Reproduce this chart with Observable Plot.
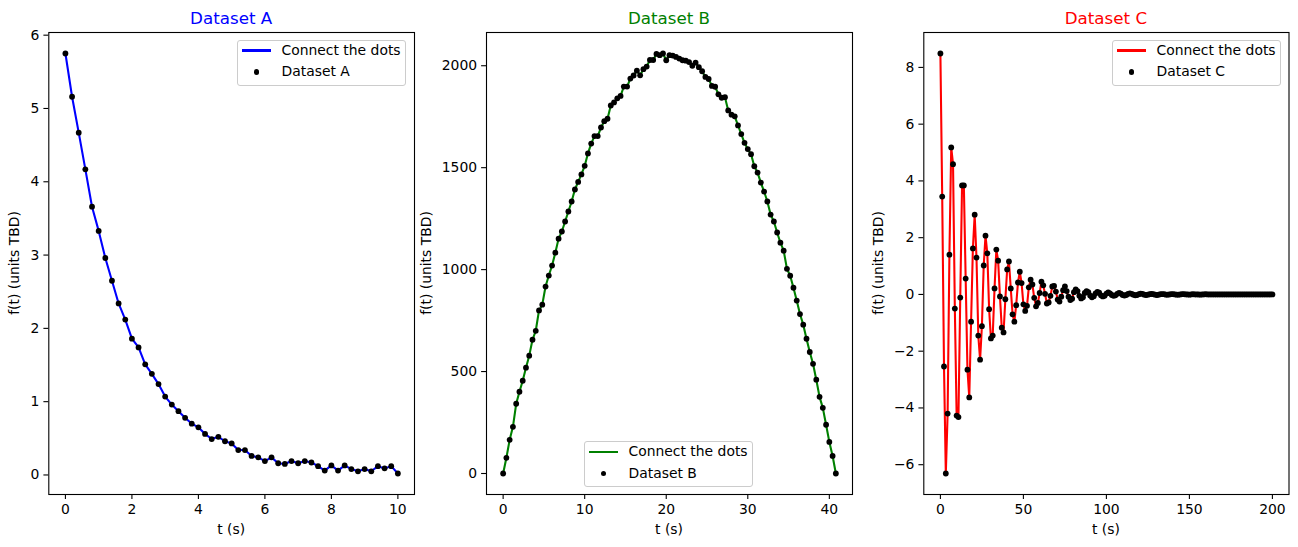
<!DOCTYPE html>
<html><head><meta charset="utf-8">
<script src="https://cdn.jsdelivr.net/npm/d3@7"></script>
<script src="https://cdn.jsdelivr.net/npm/@observablehq/plot@0.6"></script>
<style>
html,body{margin:0;padding:0;background:#fff;}
#fig{position:relative;width:1298px;height:547px;font-family:"DejaVu Sans",sans-serif;overflow:hidden;background:#fff;}
.abs{position:absolute;white-space:nowrap;}
</style></head><body><div id="fig"></div>
<script>
// ---------- Data ----------
const tA = [0,0.2,0.4,0.6,0.8,1,1.2,1.4,1.6,1.8,2,2.2,2.4,2.6,2.8,3,3.2,3.4,3.6,3.8,4,4.2,4.4,4.6,4.8,5,5.2,5.4,5.6,5.8,6,6.2,6.4,6.6,6.8,7,7.2,7.4,7.6,7.8,8,8.2,8.4,8.6,8.8,9,9.2,9.4,9.6,9.8,10];
const vA = [5.75,5.16,4.67,4.17,3.66,3.33,2.96,2.65,2.34,2.12,1.86,1.74,1.51,1.38,1.24,1.07,0.96,0.87,0.78,0.70,0.65,0.56,0.49,0.52,0.46,0.43,0.34,0.34,0.26,0.24,0.19,0.24,0.16,0.15,0.19,0.16,0.19,0.17,0.12,0.06,0.13,0.06,0.13,0.08,0.05,0.08,0.05,0.12,0.09,0.12,0.02];

const tB = [0,0.4,0.8,1.2,1.6,2,2.4,2.8,3.2,3.6,4,4.4,4.8,5.2,5.6,6,6.4,6.8,7.2,7.6,8,8.4,8.8,9.2,9.6,10,10.4,10.8,11.2,11.6,12,12.4,12.8,13.2,13.6,14,14.4,14.8,15.2,15.6,16,16.4,16.8,17.2,17.6,18,18.4,18.8,19.2,19.6,20,20.4,20.8,21.2,21.6,22,22.4,22.8,23.2,23.6,24,24.4,24.8,25.2,25.6,26,26.4,26.8,27.2,27.6,28,28.4,28.8,29.2,29.6,30,30.4,30.8,31.2,31.6,32,32.4,32.8,33.2,33.6,34,34.4,34.8,35.2,35.6,36,36.4,36.8,37.2,37.6,38,38.4,38.8,39.2,39.6,40,40.4,40.8];
const vB = [0,77,165,229,342,401,455,519,578,656,
  700,800,828,917,971,1020,1083,1152,1187,1236,
  1285,1334,1393,1430,1467,1509,1570,1618,1655,1655,
  1697,1728,1740,1805,1820,1840,1852,1898,1898,1937,
  1952,1976,1953,1983,1996,2028,2028,2058,2052,2060,
  2027,2052,2050,2043,2035,2027,2025,2018,2000,2015,
  1993,1973,1945,1935,1901,1897,1860,1843,1846,1781,
  1760,1752,1707,1665,1622,1591,1566,1507,1476,1427,
  1383,1334,1270,1236,1182,1132,1093,1004,970,911,
  848,782,730,661,596,538,460,376,322,239,
  155,86,0];

const tC = [0,1.09,2.17,3.26,4.35,5.43,6.52,7.61,8.70,9.78,10.87,11.96,13.04,14.13,15.22,16.30,17.39,18.48,19.57,20.65,21.74,22.83,23.91,25.00,26.09,27.17,28.26,29.35,30.43,31.52,32.61,33.70,34.78,35.87,36.96,38.04,39.13,40.22,41.30,42.39,43.48,44.57,45.65,46.74,47.83,48.91,
  50,51.09,52.17,53.26,54.35,55.43,56.52,57.61,58.70,59.78,60.87,61.96,63.04,64.13,65.22,66.30,67.39,68.48,69.57,70.65,71.74,72.83,73.91,75.00,76.09,77.17,78.26,79.35,80.43,81.52,82.61,83.70,84.78,85.87,86.96,88.04,89.13,90.22,91.30,92.39,93.48,94.57,95.65,96.74,97.83,98.91,
  100,101.09,102.17,103.26,104.35,105.43,106.52,107.61,108.70,109.78,110.87,111.96,113.04,114.13,115.22,116.30,117.39,118.48,119.57,120.65,121.74,122.83,123.91,125.00,126.09,127.17,128.26,129.35,130.43,131.52,132.61,133.70,134.78,135.87,136.96,138.04,139.13,140.22,141.30,142.39,143.48,144.57,145.65,146.74,147.83,148.91,
  150,151.09,152.17,153.26,154.35,155.43,156.52,157.61,158.70,159.78,160.87,161.96,163.04,164.13,165.22,166.30,167.39,168.48,169.57,170.65,171.74,172.83,173.91,175.00,176.09,177.17,178.26,179.35,180.43,181.52,182.61,183.70,184.78,185.87,186.96,188.04,189.13,190.22,191.30,192.39,193.48,194.57,195.65,196.74,197.83,198.91,
  200];
const vC = [8.49,3.45,-2.54,-6.31,-4.20,1.40,5.18,4.59,-0.50,-4.27,
  -4.32,-0.11,3.84,3.84,0.56,-2.65,-3.63,-0.96,1.62,2.81,
  1.30,-1.45,-2.30,-1.12,1.02,2.07,1.45,-0.52,-1.55,-1.45,
  0.21,1.58,1.19,-0.07,-1.17,-1.34,-0.17,0.88,1.16,0.21,
  -0.70,-0.96,-0.38,0.42,0.80,0.40,-0.35,-0.58,-0.40,0.25,
  0.52,0.35,-0.12,-0.42,-0.30,0.05,0.45,0.32,0.02,-0.32,
  -0.28,-0.05,0.28,0.30,0.10,-0.18,-0.25,-0.08,0.15,0.28,
  0.12,-0.08,-0.20,-0.15,0.08,0.18,0.12,-0.05,-0.14,-0.10,
  0.05,0.12,0.08,-0.04,-0.10,-0.06,0.04,0.09,0.06,-0.03,
  -0.07,-0.05,0.03,0.07,0.04,-0.02,-0.05,-0.03,0.02,0.05,
  0.03,-0.02,-0.04,-0.02,0.02,0.04,0.02,-0.01,-0.03,-0.02,
  0.01,0.03,0.02,-0.01,-0.02,-0.01,0.01,0.02,0.01,-0.01,
  -0.02,-0.01,0.01,0.01,0.01,-0.01,-0.01,0,0.01,0.01,
  0,-0.01,-0.01,0,0.01,0.01,0,0,-0.01,0,
  0.01,0,0,0,-0.01,0,0,0.01,0,0,
  0,0,0,0,0,0,0,0,0,0,
  0,0,0,0,0,0,0,0,0,0,
  0,0,0,0,0,0,0,0,0,0,
  0,0,0,0,0];

const xTicksA = [0,2,4,6,8,10], yTicksA = [0,1,2,3,4,5,6];
const xTicksB = [0,10,20,30,40], yTicksB = [0,500,1000,1500,2000];
const xTicksC = [0,50,100,150,200], yTicksC = [-6,-4,-2,0,2,4,6,8];
const titles = ["Dataset A","Dataset B","Dataset C"];
const colors = ["#0000ff","#008000","#ff0000"];
const xLabel = "t (s)", yLabel = "f(t) (units TBD)", lineLabel = "Connect the dots";

// ---------- Layout ----------
const fig = document.getElementById("fig");
const FONT = "DejaVu Sans";
const TOP = 32, BOTTOM = 494, H = 547;
const LW = 2.08;

const panels = [
  {t: tA, v: vA, xt: xTicksA, yt: yTicksA, left: 0, width: 437, fl: 48.3, fr: 414, ylx: 15,
   legend: {left: 237, top: 39.5}},
  {t: tB, v: vB, xt: xTicksB, yt: yTicksB, left: 437, width: 437, fl: 486, fr: 852, ylx: 427.3,
   legend: {left: 584, top: 441}},
  {t: tC, v: vC, xt: xTicksC, yt: yTicksC, left: 874, width: 424, fl: 923.3, fr: 1288.5, ylx: 879.3,
   legend: {left: 1112, top: 39.5}}
];

function addText(txt, x, y, size, color, extra) {
  const d = document.createElement("div");
  d.className = "abs";
  d.textContent = txt;
  d.style.left = x + "px";
  d.style.top = y + "px";
  d.style.fontSize = size + "px";
  d.style.lineHeight = "1";
  d.style.color = color || "black";
  d.style.transform = extra || "translate(-50%,-50%)";
  fig.appendChild(d);
  return d;
}

panels.forEach((p, k) => {
  const data = p.t.map((t, i) => ({t, v: p.v[i]}));
  const [x0, x1] = d3.extent(p.t), dx = (x1 - x0) * 0.05;
  const [y0, y1] = d3.extent(p.v), dy = (y1 - y0) * 0.05;
  const fmt = d3.format("d");
  const plot = Plot.plot({
    width: p.width, height: H,
    marginLeft: p.fl - p.left, marginRight: p.left + p.width - p.fr,
    marginTop: TOP, marginBottom: H - BOTTOM,
    style: {fontFamily: FONT, fontSize: "13.9px", color: "black", background: "transparent", overflow: "visible"},
    x: {domain: [x0 - dx, x1 + dx]},
    y: {domain: [y0 - dy, y1 + dy]},
    marks: [
      Plot.line(data, {x: "t", y: "v", stroke: colors[k], strokeWidth: LW}),
      Plot.dot(data, {x: "t", y: "v", r: 2.9, fill: "black"}),
      Plot.frame({stroke: "black", strokeWidth: 1.1}),
      Plot.axisX({ticks: p.xt, tickSize: 4.9, tickPadding: 4.5, tickFormat: fmt, label: null, strokeWidth: 1.1}),
      Plot.axisY({ticks: p.yt, tickSize: 4.9, tickPadding: 4.5, tickFormat: fmt, label: null, strokeWidth: 1.1})
    ]
  });
  plot.style.position = "absolute";
  plot.style.left = p.left + "px";
  plot.style.top = "0px";
  fig.appendChild(plot);

  const cx = (p.fl + p.fr) / 2;
  addText(titles[k], cx, 17.5, 16.7, colors[k]);
  addText(xLabel, cx, 530, 13.9);
  addText(yLabel, p.ylx, (TOP + BOTTOM) / 2, 13.9, "black", "translate(-50%,-50%) rotate(-90deg)");

  // legend
  const L = p.legend;
  const box = document.createElement("div");
  box.className = "abs";
  Object.assign(box.style, {left: L.left + "px", top: L.top + "px", width: "169px", height: "46px",
    border: "1px solid #cccccc", borderRadius: "3px", background: "rgba(255,255,255,0.8)", boxSizing: "border-box"});
  fig.appendChild(box);
  const r1 = L.top + 11, r2 = L.top + 32.5;
  const ln = document.createElement("div");
  ln.className = "abs";
  Object.assign(ln.style, {left: (L.left + 5) + "px", top: (r1 - LW / 2) + "px", width: "29px", height: LW + "px", background: colors[k]});
  fig.appendChild(ln);
  const dt = document.createElement("div");
  dt.className = "abs";
  Object.assign(dt.style, {left: (L.left + 19.5 - 2.9) + "px", top: (r2 - 2.9) + "px", width: "5.8px", height: "5.8px", borderRadius: "50%", background: "black"});
  fig.appendChild(dt);
  addText(lineLabel, L.left + 44.5, r1, 13.9, "black", "translate(0,-50%)");
  addText(titles[k], L.left + 44.5, r2, 13.9, "black", "translate(0,-50%)");
});
</script>
</body></html>
